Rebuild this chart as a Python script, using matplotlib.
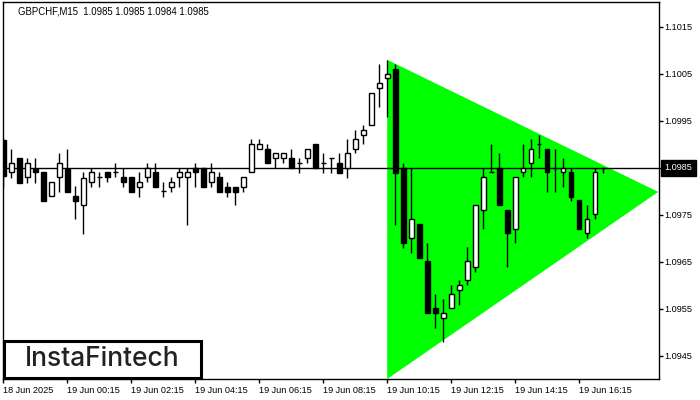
import matplotlib
matplotlib.use("Agg")
import matplotlib.pyplot as plt
from matplotlib.patches import Rectangle

plt.rcParams['font.family'] = ['Liberation Sans', 'DejaVu Sans']

# 15 min bars, GBPCHF (open, high, low, close)
opens = [1.09910, 1.09841, 1.09871, 1.09831, 1.09848, 1.09841, 1.09790, 1.09831, 1.09848, 1.09790,
         1.09771, 1.09820, 1.09831, 1.09841, 1.09841, 1.09831, 1.09831, 1.09810, 1.09831, 1.09841,
         1.09801, 1.09810, 1.09831, 1.09831, 1.09850, 1.09850, 1.09820, 1.09831, 1.09810, 1.09810,
         1.09810, 1.09841, 1.09890, 1.09890, 1.09871, 1.09871, 1.09871, 1.09861, 1.09871, 1.09901,
         1.09861, 1.09871, 1.09861, 1.09850, 1.09890, 1.09920, 1.09941, 1.10020, 1.10042, 1.10061,
         1.09850, 1.09701, 1.09731, 1.09652, 1.09552, 1.09531, 1.09552, 1.09590, 1.09612, 1.09639,
         1.09761, 1.09841, 1.09850, 1.09761, 1.09720, 1.09841, 1.09861, 1.09901, 1.09890, 1.09850,
         1.09841, 1.09841, 1.09782, 1.09712, 1.09752, 1.09850]
highs = [1.09914, 1.09890, 1.09871, 1.09871, 1.09871, 1.09841, 1.09820, 1.09882, 1.09890, 1.09812,
         1.09841, 1.09850, 1.09841, 1.09841, 1.09861, 1.09850, 1.09831, 1.09841, 1.09861, 1.09861,
         1.09820, 1.09831, 1.09850, 1.09850, 1.09861, 1.09850, 1.09861, 1.09841, 1.09820, 1.09810,
         1.09831, 1.09912, 1.09912, 1.09901, 1.09882, 1.09882, 1.09890, 1.09871, 1.09890, 1.09901,
         1.09882, 1.09871, 1.09882, 1.09912, 1.09931, 1.09941, 1.10010, 1.10071, 1.10080, 1.10071,
         1.09861, 1.09850, 1.09731, 1.09690, 1.09582, 1.09571, 1.09601, 1.09612, 1.09682, 1.09771,
         1.09850, 1.09901, 1.09882, 1.09761, 1.09831, 1.09901, 1.09912, 1.09920, 1.09890, 1.09890,
         1.09871, 1.09850, 1.09782, 1.09771, 1.09850, 1.09850]
lows = [1.09810, 1.09829, 1.09818, 1.09818, 1.09818, 1.09780, 1.09790, 1.09799, 1.09799, 1.09741,
        1.09710, 1.09810, 1.09810, 1.09820, 1.09831, 1.09810, 1.09799, 1.09788, 1.09820, 1.09810,
        1.09788, 1.09799, 1.09810, 1.09729, 1.09810, 1.09810, 1.09810, 1.09799, 1.09788, 1.09771,
        1.09799, 1.09841, 1.09890, 1.09861, 1.09850, 1.09861, 1.09850, 1.09839, 1.09861, 1.09850,
        1.09839, 1.09839, 1.09839, 1.09829, 1.09882, 1.09901, 1.09941, 1.09980, 1.09959, 1.09729,
        1.09680, 1.09669, 1.09659, 1.09541, 1.09510, 1.09480, 1.09552, 1.09559, 1.09601, 1.09629,
        1.09720, 1.09841, 1.09771, 1.09639, 1.09690, 1.09831, 1.09831, 1.09871, 1.09799, 1.09799,
        1.09810, 1.09780, 1.09720, 1.09701, 1.09741, 1.09840]
closes = [1.09833, 1.09861, 1.09818, 1.09861, 1.09841, 1.09780, 1.09820, 1.09861, 1.09799, 1.09780,
          1.09829, 1.09841, 1.09831, 1.09831, 1.09841, 1.09820, 1.09799, 1.09820, 1.09850, 1.09810,
          1.09801, 1.09820, 1.09841, 1.09841, 1.09841, 1.09810, 1.09841, 1.09799, 1.09799, 1.09799,
          1.09831, 1.09901, 1.09901, 1.09861, 1.09882, 1.09882, 1.09850, 1.09861, 1.09890, 1.09850,
          1.09861, 1.09871, 1.09839, 1.09882, 1.09912, 1.09931, 1.10010, 1.10031, 1.10050, 1.09839,
          1.09690, 1.09741, 1.09659, 1.09541, 1.09541, 1.09541, 1.09582, 1.09601, 1.09652, 1.09771,
          1.09831, 1.09841, 1.09771, 1.09712, 1.09831, 1.09850, 1.09890, 1.09901, 1.09841, 1.09850,
          1.09850, 1.09788, 1.09720, 1.09741, 1.09841, 1.09850]

# triangle pattern (bar index, price)
tri_x = [48, 81.9, 48]
tri_y = [1.10080, 1.09799, 1.09401]

last_price = 1.0985
price_ticks = [1.1015, 1.1005, 1.0995, 1.0985, 1.0975, 1.0965, 1.0955, 1.0945]
time_ticks = [0, 8, 16, 24, 32, 40, 48, 56, 64, 72]
time_labels = ['18 Jun 2025', '19 Jun 00:15', '19 Jun 02:15', '19 Jun 04:15', '19 Jun 06:15',
               '19 Jun 08:15', '19 Jun 10:15', '19 Jun 12:15', '19 Jun 14:15', '19 Jun 16:15']

fig = plt.figure(figsize=(7, 4), dpi=100)
ax = fig.add_axes([3 / 700, 21 / 400, 656 / 700, 377 / 400])

ax.fill(tri_x, tri_y, color='#00ff00', lw=0, zorder=1)
ax.axhline(last_price, color='black', lw=1, zorder=2)

xs = list(range(len(opens)))
ax.vlines(xs, lows, highs, color='black', lw=1, zorder=3)

for i in xs:
    o, c = opens[i], closes[i]
    if abs(o - c) < 1e-6:
        ax.hlines(o, i - 0.3, i + 0.3, color='black', lw=1, zorder=4)
    else:
        fc = 'white' if c > o else 'black'
        ax.bar(i, abs(c - o), bottom=min(o, c), width=0.6, color=fc,
               edgecolor='black', linewidth=1, zorder=4)

ax.set_xlim(-0.06, 82.0)
ax.set_ylim(1.09401, 1.10203)

ax.yaxis.tick_right()
ax.set_yticks(price_ticks)
ax.set_yticklabels(['%.4f' % p for p in price_ticks])
ax.set_xticks(time_ticks)
ax.set_xticklabels(time_labels, ha='left')
ax.tick_params(axis='both', direction='out', length=3, width=1, labelsize=6.6, colors='black')
ax.tick_params(axis='x', pad=2)
ax.tick_params(axis='y', pad=1)
for s in ax.spines.values():
    s.set_linewidth(1)
    s.set_color('black')

ax.annotate('%.4f' % last_price, xy=(1, last_price), xycoords=('axes fraction', 'data'),
            xytext=(4, 0), textcoords='offset points', va='center', ha='left',
            fontsize=6.6, color='white', annotation_clip=False, zorder=10,
            bbox=dict(boxstyle='square,pad=0.35', fc='black', ec='black'))

fig.text(18 / 700, 1 - 11 / 400, 'GBPCHF,M15  1.0985 1.0985 1.0984 1.0985',
         fontsize=6.9, va='center', ha='left', color='black')

# logo box
fig.patches.append(Rectangle((4 / 700, 22 / 400), 197 / 700, 37 / 400, transform=fig.transFigure,
                             facecolor='white', edgecolor='black', lw=2.2, zorder=20))
fig.text(102 / 700, 1 - 359 / 400, 'InstaFintech', fontsize=19, fontweight='medium',
         family=['Inter', 'Lato', 'DejaVu Sans'],
         color='#222222', ha='center', va='center', zorder=21)

fig.savefig('out.png', dpi=100)
